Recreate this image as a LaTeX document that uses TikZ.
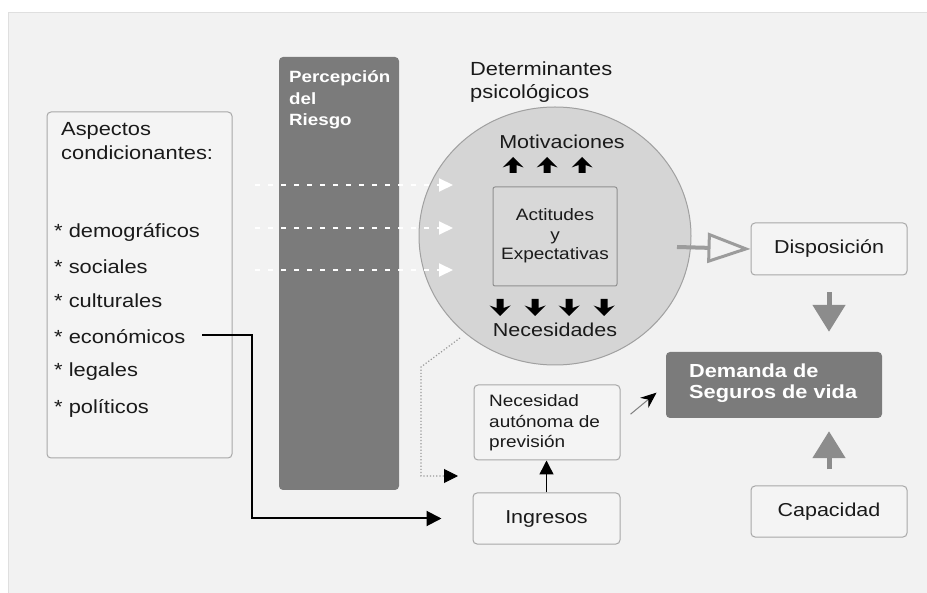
\documentclass[tikz,border=0pt]{standalone}
\usepackage{fontspec}
\setmainfont{Liberation Sans}[FakeStretch=1.15]
\usetikzlibrary{arrows.meta,shapes.geometric}
\definecolor{bgc}{HTML}{F2F2F2}
\definecolor{boxline}{HTML}{A8A8A8}
\definecolor{boxfill}{HTML}{F4F4F4}
\definecolor{darkbar}{HTML}{7B7B7B}
\definecolor{circfill}{HTML}{D5D5D5}
\definecolor{circline}{HTML}{A0A0A0}
\definecolor{actfill}{HTML}{D8D8D8}
\definecolor{txt}{HTML}{1A1A1A}
\definecolor{garrow}{HTML}{8C8C8C}
\definecolor{larrow}{HTML}{9C9C9C}
\begin{document}
\begin{tikzpicture}[x=1pt,y=-1pt,
  lbox/.style={draw=boxline,fill=boxfill,line width=1pt,rounded corners=4pt,inner sep=0pt},
  dbox/.style={fill=darkbar,rounded corners=4pt,inner sep=0pt},
  tx/.style={text=txt,inner sep=0pt},
  fs19/.style={font=\fontsize{19}{22}\selectfont},
  fs185/.style={font=\fontsize{18.7}{22}\selectfont},
  fs165/.style={font=\fontsize{16.5}{20.5}\selectfont},
  wdash/.style={white,line width=2pt,dash pattern=on 5pt off 8pt,-{Triangle[length=14pt,width=13pt,fill=white]}},
  blk/.style={black,line width=2pt,-{Triangle[length=15pt,width=15pt]}},
  garr/.style={garrow,line width=5pt,-{Triangle[length=27pt,width=32pt]}}
]
\useasboundingbox (0,0) rectangle (927,593);
\fill[white] (0,0) rectangle (927,593);
\fill[bgc] (8,12) rectangle (927,593);
\draw[gray!25,line width=0.8pt] (8,593) -- (8,12) -- (927,12);

% left box
\node[lbox,minimum width=185pt,minimum height=346pt] (asp) at (139.5,285) {};
\node[tx,fs19,anchor=west] (asp1) at (61,131) {Aspectos};
\node[tx,fs19,anchor=west] (asp2) at (61,153) {condicionantes:};
\node[tx,fs19,anchor=west] (demo) at (54,232) {* demográficos};
\node[tx,fs19,anchor=west] (soc) at (54,267) {* sociales};
\node[tx,fs19,anchor=west] (cult) at (54,301) {* culturales};
\node[tx,fs19,anchor=west] (econ) at (54,337) {* económicos};
\node[tx,fs19,anchor=west] (leg) at (54,372) {* legales};
\node[tx,fs19,anchor=west] (pol) at (54,408) {* políticos};

% perception bar
\node[dbox,minimum width=120pt,minimum height=433pt] (perc) at (339,273.5) {};
\node[inner sep=0pt,anchor=north west,text=white,font=\fontsize{16.3}{21.5}\selectfont\bfseries,align=left] (percl) at (289,70.5) {Percepción\\del\\Riesgo};

% psychological determinants
\node[tx,anchor=north west,align=left,font=\fontsize{19}{22.5}\selectfont] (det) at (470,62) {Determinantes\\psicológicos};
\node[ellipse,draw=circline,fill=circfill,line width=1pt,minimum width=272pt,minimum height=258pt,inner sep=0pt] (circ) at (555,236) {};
\node[tx,fs185] (motiv) at (562,142) {Motivaciones};
\node[draw=circline!90!black,fill=actfill,line width=1pt,rounded corners=2pt,minimum width=124pt,minimum height=99pt,inner sep=0pt] (act) at (555,236.5) {};
\node[tx,align=center,font=\fontsize{16.5}{19.5}\selectfont] (actl) at (555,236) {Actitudes\\y\\Expectativas};
\node[tx,fs185] (neces) at (555,330) {Necesidades};

% block arrows
\foreach \ax in {513,547,582}{
  \fill[black] (\ax,157) -- (\ax+10.5,167.5) -- (\ax+3.5,165) -- (\ax+3.5,173) -- (\ax-3.5,173) -- (\ax-3.5,165) -- (\ax-10.5,167.5) -- cycle;
}
\foreach \ax in {500,535,569,604}{
  \fill[black] (\ax,316) -- (\ax+10.5,305.5) -- (\ax+3.5,308) -- (\ax+3.5,299) -- (\ax-3.5,299) -- (\ax-3.5,308) -- (\ax-10.5,305.5) -- cycle;
}

% white dashed arrows
\coordinate (w1s) at (255,185); \coordinate (w1e) at (453,185);
\coordinate (w2s) at (255,228); \coordinate (w2e) at (453,228);
\coordinate (w3s) at (255,270); \coordinate (w3e) at (453,270);
\draw[wdash] (w1s) -- (w1e);
\draw[wdash] (w2s) -- (w2e);
\draw[wdash] (w3s) -- (w3e);

% right side
\node[lbox,minimum width=156pt,minimum height=52pt] (disp) at (829,249) {};
\node[tx,fs185] (displ) at (829,249) {Disposición};
\node[dbox,minimum width=216pt,minimum height=66pt] (dem) at (774,385) {};
\node[inner sep=0pt,anchor=west,text=white,align=left,font=\fontsize{18.9}{21.5}\selectfont\bfseries] (deml) at (689,383) {Demanda de\\Seguros de vida};
\node[lbox,minimum width=156pt,minimum height=51pt] (cap) at (829,511.5) {};
\node[tx,fs185] (capl) at (829,512) {Capacidad};

\coordinate (dstart) at (677,247);
\draw[larrow,line width=4pt,-{Triangle[open,length=43pt,width=30pt,line width=3pt]}] (dstart) -- (disp.west);
\draw[garr,shorten <=17pt,shorten >=20pt] (disp.south) -- (disp.south |- dem.north);
\draw[garr,shorten <=16pt,shorten >=13pt] (cap.north) -- (cap.north |- dem.south);

% lower middle
\node[lbox,minimum width=146pt,minimum height=75pt] (necaut) at (547,422.5) {};
\node[tx,anchor=west,align=left,font=\fontsize{16.5}{20.5}\selectfont] (necautl) at (489,423) {Necesidad\\autónoma de\\previsión};
\node[lbox,minimum width=147pt,minimum height=51pt] (ing) at (546.5,518.5) {};
\node[tx,fs185] (ingl) at (546.5,519) {Ingresos};

\draw[black,line width=1.5pt,-{Triangle[length=14pt,width=14pt]}] (ing.north) -- (ing.north |- necaut.south);
\draw[gray,line width=1pt,shorten <=13pt,shorten >=12pt,-{Stealth[length=16pt,width=13pt,black]}] (necaut.east) -- (dem.west);

% economic connector
\coordinate (ecs) at (202,335);
\coordinate (ecc) at (252,335);
\draw[blk] (ecs) -- (ecc) |- ([xshift=-31pt]ing.west);

% dotted connector
\coordinate (dt1) at (460,338);
\coordinate (dt2) at (421,367);
\coordinate (dt3) at (421,476);
\coordinate (dt4) at (458,476);
\draw[gray!80,line width=1.2pt,dotted] (dt1) -- (dt2) -- (dt3) -- ([xshift=-12pt]dt4);
\draw[black,line width=1pt,-{Triangle[length=14pt,width=14pt]}] ([xshift=-13pt]dt4) -- (dt4);
\end{tikzpicture}
\end{document}
